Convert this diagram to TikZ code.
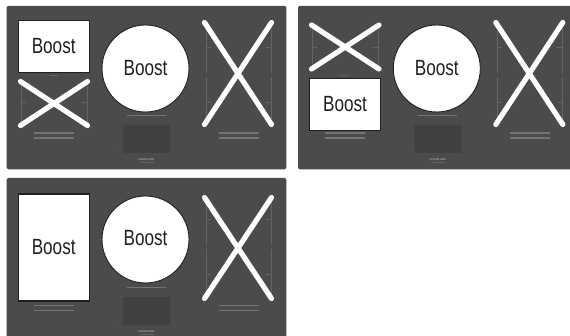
\documentclass[tikz,border=0pt]{standalone}
\usepackage{graphicx}
\usepackage{fontspec}
\setmainfont{Liberation Sans}
\definecolor{panelgray}{HTML}{4A4B4D}
\definecolor{wellgray}{HTML}{404143}
\definecolor{rulegray}{HTML}{636466}
\definecolor{barcolor}{HTML}{737476}
\definecolor{inkdark}{HTML}{231F20}
\newcommand{\boostword}{\scalebox{0.78}[1]{\fontsize{22}{22}\selectfont Boost}}
\tikzset{
  panel/.style={fill=panelgray,rounded corners=1.5pt,draw=none},
  well/.style={fill=wellgray,rounded corners=1pt,draw=none},
  guide/.style={draw=rulegray,line width=0.6pt},
  barline/.style={draw=barcolor,line width=1.3pt},
  crossout/.style={draw=white,line width=5.2pt,line cap=round},
  boostbox/.style={draw=inkdark,fill=white,line width=1.2pt,inner sep=0pt,text=inkdark},
  boostdisc/.style={circle,draw=inkdark,fill=white,line width=0.9pt,inner sep=0pt,minimum size=87pt},
  brand/.style={inner sep=0pt,text=white!65!panelgray,font=\fontsize{2.8}{3}\selectfont}
}
% common parts of a panel: #1 = x offset, #2 = y offset, #3 = panel bottom, #4 = name prefix, #5 = disc y, #6 = disc label y
\newcommand{\panelbase}[6]{%
  \begin{scope}[shift={(#1,#2)}]
    \path[panel] (6.7,5.8) rectangle (286.3,#3);
    % right-hand zone guides
    \draw[guide] (206,27) -- (206,73) (206,47) -- (211,47);
    \draw[guide] (206,77) -- (206,123) (206,102) -- (211,102);
    \draw[guide] (271,27) -- (271,73) (271,47) -- (266,47);
    \draw[guide] (271,77) -- (271,123) (271,102) -- (266,102);
    \node[boostdisc] (#4disc) at (145.5,#5) {};
    \node[text=inkdark,inner sep=0pt] (#4disclabel) at (145.5,#6) {\boostword};
    \draw[barline] (126.5,115.3) -- (166,115.3);
    \node[well,minimum width=47pt,minimum height=28pt,inner sep=0pt] (#4well) at (146.5,139) {};
    \path[fill=rulegray] (119,148.2) circle (0.4pt);
    \node[brand] (#4brand) at (146.5,159.7) {SIGNATURE};
    \draw[draw=rulegray,line width=0.5pt] (139.5,162) -- (153.5,162);
    \draw[barline] (219,133) -- (259,133) (219,138) -- (259,138);
    \draw[barline] (34,133) -- (74,133) (34,138) -- (74,138);
  \end{scope}%
}
\begin{document}
\begin{tikzpicture}[x=1pt,y=-1pt]
  \useasboundingbox (0,0) rectangle (570,336);
  \path[fill=white] (0,0) rectangle (570,336);
  \clip (0,0) rectangle (570,336);

  % ---- panel 1
  \panelbase{0}{0}{169.3}{a}{68.5}{67.7}
  \draw[guide] (21,84) -- (21,122) (21,102) -- (26,102);
  \draw[guide] (87,84) -- (87,122) (87,102) -- (82,102);
  \draw[guide] (50,75.5) -- (58,75.5);
  \node[boostbox,minimum width=71pt,minimum height=52pt] (abox) at (53.7,46.2) {\boostword};
  \draw[crossout] (20.5,81.5) -- (87.5,125.5) (87.5,81.5) -- (20.5,125.5);
  \draw[crossout] (204.5,22.5) -- (271.5,124.5) (271.5,22.5) -- (204.5,124.5);

  % ---- panel 2
  \panelbase{291.3}{0}{169.3}{b}{68.5}{67.7}
  \draw[guide] (312.3,27) -- (312.3,65) (312.3,47) -- (317.3,47);
  \draw[guide] (378.3,27) -- (378.3,65) (378.3,47) -- (373.3,47);
  \draw[guide] (341,75.3) -- (349,75.3);
  \draw[crossout] (311.5,25) -- (379,69) (379,25) -- (311.5,69);
  \node[boostbox,minimum width=71pt,minimum height=52pt] (bbox) at (345,104.3) {\boostword};
  \draw[crossout] (495.8,22.5) -- (562.8,124.5) (562.8,22.5) -- (495.8,124.5);

  % ---- panel 3
  \panelbase{0}{172.2}{340}{c}{67.3}{65.5}
  \node[boostbox,minimum width=71pt,minimum height=107pt] (cbox) at (53.7,247.5) {\boostword};
  \draw[crossout] (204.5,197.5) -- (271.5,298.5) (271.5,197.5) -- (204.5,298.5);
\end{tikzpicture}
\end{document}
